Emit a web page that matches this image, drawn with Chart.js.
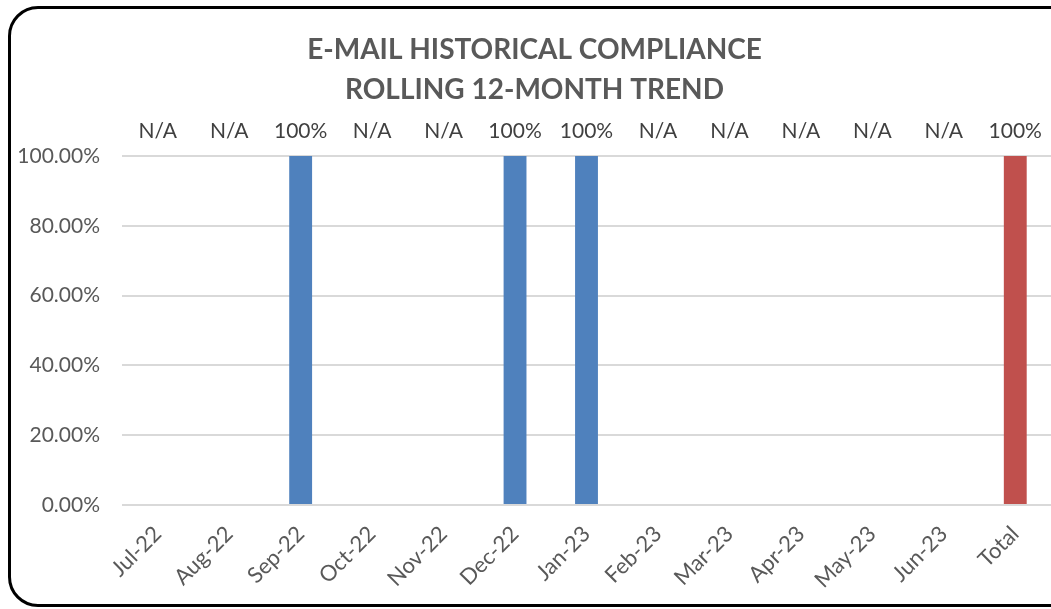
<!DOCTYPE html>
<html>
<head>
<meta charset="utf-8">
<script src="https://cdn.jsdelivr.net/npm/chart.js@4"></script>
<style>
  html, body { margin: 0; padding: 0; background: #fff; overflow: hidden; }
  #wrap { position: relative; width: 1051px; height: 609px; }
  #frame {
    position: absolute; left: 8px; top: 6px; width: 1100px; height: 601px;
    box-sizing: border-box; border: 3px solid #000; border-radius: 30px;
    pointer-events: none;
  }
</style>
</head>
<body>
<div id="wrap">
  <canvas id="chartEmail" width="1051" height="609"></canvas>
  <div id="frame"></div>
</div>
<script>
// data
const months = ['Jul-22','Aug-22','Sep-22','Oct-22','Nov-22','Dec-22','Jan-23','Feb-23','Mar-23','Apr-23','May-23','Jun-23','Total'];
const compliance = [null, null, 1, null, null, 1, 1, null, null, null, null, null, 1];
const topLabels = ['N/A','N/A','100%','N/A','N/A','100%','100%','N/A','N/A','N/A','N/A','N/A','100%'];
const yTicks = [0, 0.2, 0.4, 0.6, 0.8, 1];

const barColors = months.map(m => m === 'Total' ? '#C0504D' : '#4F81BD');

// labels N/A / 100% drawn above the plot area
const topLabelPlugin = {
    id: 'topLabels',
    afterDatasetsDraw(chart) {
        const ctx = chart.ctx;
        const x = chart.scales.x;
        ctx.save();
        ctx.font = '21px Lato';
        ctx.fillStyle = '#404040';
        ctx.textAlign = 'center';
        ctx.textBaseline = 'middle';
        topLabels.forEach((t, i) => {
            ctx.fillText(t, x.getPixelForValue(i), chart.chartArea.top - 25);
        });
        ctx.restore();
    }
};

new Chart(document.getElementById('chartEmail'), {
    type: 'bar',
    data: {
        labels: months,
        datasets: [{
            data: compliance,
            backgroundColor: barColors,
            categoryPercentage: 1,
            barPercentage: 0.32
        }]
    },
    plugins: [topLabelPlugin],
    options: {
        responsive: false,
        animation: false,
        layout: { padding: { left: 18, right: 0, top: 0, bottom: 0 } },
        plugins: {
            legend: { display: false },
            tooltip: { enabled: false },
            title: {
                display: true,
                text: ['E-MAIL HISTORICAL COMPLIANCE', 'ROLLING 12-MONTH TREND'],
                color: '#595959',
                font: { family: 'Lato', size: 28, weight: 'bold', lineHeight: 1.43 },
                padding: { top: 30, bottom: 46 }
            }
        },
        scales: {
            x: {
                grid: { display: false },
                border: { display: false },
                ticks: {
                    color: '#595959',
                    font: { family: 'Lato', size: 22 },
                    minRotation: 45,
                    maxRotation: 45,
                    padding: 8
                },
                afterFit: s => { s.height = 104; }
            },
            y: {
                min: 0,
                max: 1,
                afterBuildTicks: s => { s.ticks = yTicks.map(v => ({ value: v })); },
                grid: { color: '#d9d9d9', lineWidth: 2, drawTicks: false },
                border: { display: false },
                ticks: {
                    color: '#595959',
                    font: { family: 'Lato', size: 21 },
                    padding: 22,
                    callback: v => (v * 100).toFixed(2) + '%'
                },
                afterFit: s => { s.width = 104; }
            }
        }
    }
});
</script>
</body>
</html>
